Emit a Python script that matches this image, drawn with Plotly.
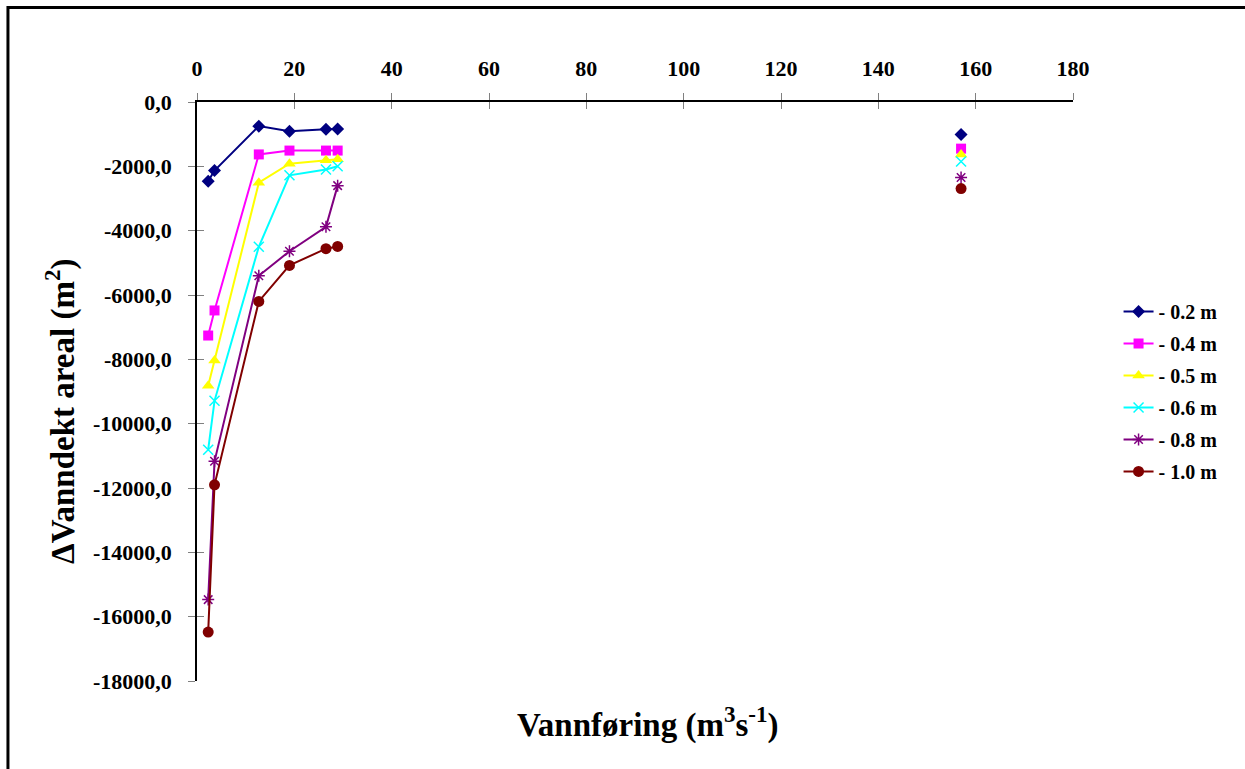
import plotly.graph_objects as go

# Discharge values (m3/s); the last survey is plotted as a separate, unconnected point
discharge = [2.3, 3.6, 12.7, 19.0, 26.5, 28.9, None, 157.0]

# Change in wetted area (m2) for each water-level reduction
area_02 = [-2460, -2130, -750, -910, -850, -840, None, -1010]
area_04 = [-7260, -6480, -1630, -1510, -1510, -1510, None, -1450]
area_05 = [-8820, -8040, -2510, -1920, -1810, -1780, None, -1630]
area_06 = [-10810, -9290, -4500, -2280, -2100, -2000, None, -1850]
area_08 = [-15470, -11170, -5400, -4640, -3880, -2600, None, -2350]
area_10 = [-16480, -11900, -6200, -5080, -4560, -4490, None, -2690]

series_names = ["- 0.2 m", "- 0.4 m", "- 0.5 m", "- 0.6 m", "- 0.8 m", "- 1.0 m"]

x_tickvals = [0, 20, 40, 60, 80, 100, 120, 140, 160, 180]
y_tickvals = [0, -2000, -4000, -6000, -8000, -10000, -12000, -14000, -16000, -18000]
y_ticktext = ["0,0", "-2000,0", "-4000,0", "-6000,0", "-8000,0", "-10000,0",
              "-12000,0", "-14000,0", "-16000,0", "-18000,0"]

styles = [
    dict(color="#000080", symbol="diamond", size=10),
    dict(color="#FF00FF", symbol="square", size=10),
    dict(color="#FFFF00", symbol="triangle-up", size=11),
    dict(color="#00FFFF", symbol="x-thin", size=10),
    dict(color="#800080", symbol="asterisk", size=10),
    dict(color="#800000", symbol="circle", size=11),
]

FONT = "Liberation Serif, Times New Roman, serif"

fig = go.Figure()
for name, vals, st in zip(series_names,
                          [area_02, area_04, area_05, area_06, area_08, area_10],
                          styles):
    open_sym = st["symbol"] in ("x-thin", "asterisk")
    fig.add_trace(go.Scatter(
        x=discharge, y=vals, name=name, legendgroup=name, mode="lines+markers",
        connectgaps=False,
        line=dict(color=st["color"], width=2),
        marker=dict(symbol=st["symbol"], size=st["size"], color=st["color"],
                    line=dict(color=st["color"], width=1.5 if open_sym else 0)),
    ))

# Invisible trace on the overlay axes that carry the inner half of the cross ticks
fig.add_trace(go.Scatter(x=[None], y=[None], xaxis="x2", yaxis="y2",
                         showlegend=False, hoverinfo="skip"))

tick_font = dict(family=FONT, size=22, color="black", weight="bold")

fig.update_layout(
    width=1245, height=769,
    margin=dict(l=197, r=172, t=102, b=88),
    paper_bgcolor="white", plot_bgcolor="white",
    showlegend=True,
    legend=dict(x=1.052, y=0.672, xanchor="left", yanchor="top",
                font=dict(family=FONT, size=20, color="black", weight="bold"),
                bgcolor="rgba(0,0,0,0)", itemwidth=30, tracegroupgap=3),
    xaxis=dict(range=[0, 180], side="top", tickvals=x_tickvals,
               showgrid=False, zeroline=False, showline=True,
               linecolor="black", linewidth=1.5,
               ticks="outside", ticklen=7, tickcolor="#808080", tickwidth=1,
               tickfont=tick_font, ticklabelstandoff=8),
    yaxis=dict(range=[-18000, 0], tickvals=y_tickvals, ticktext=y_ticktext,
               showgrid=False, zeroline=False, showline=True,
               linecolor="black", linewidth=1.5,
               ticks="outside", ticklen=7, tickcolor="#808080", tickwidth=1,
               tickfont=tick_font, ticklabelstandoff=12),
    xaxis2=dict(range=[0, 180], side="top", overlaying="x", tickvals=x_tickvals,
                showticklabels=False, showgrid=False, zeroline=False,
                ticks="inside", ticklen=7, tickcolor="#808080", tickwidth=1),
    yaxis2=dict(range=[-18000, 0], overlaying="y", tickvals=y_tickvals,
                showticklabels=False, showgrid=False, zeroline=False,
                ticks="inside", ticklen=7, tickcolor="#808080", tickwidth=1),
    shapes=[dict(type="rect", xref="paper", yref="paper",
                 x0=-0.2158, x1=1.3, y0=-0.3, y1=1.1633,
                 line=dict(color="black", width=3), fillcolor="rgba(0,0,0,0)",
                 layer="above")],
    annotations=[
        dict(text="Vannføring (m<sup>3</sup>s<sup>-1</sup>)", xref="paper", yref="paper",
             x=0.515, y=-0.072, xanchor="center", yanchor="middle", showarrow=False,
             font=dict(family=FONT, size=33, color="black", weight="bold")),
        dict(text="ΔVanndekt areal (m<sup>2</sup>)", xref="paper", yref="paper",
             x=-0.155, y=0.465, xanchor="center", yanchor="middle", showarrow=False,
             textangle=-90,
             font=dict(family=FONT, size=33, color="black", weight="bold")),
    ],
)

fig.write_html("out.html")
